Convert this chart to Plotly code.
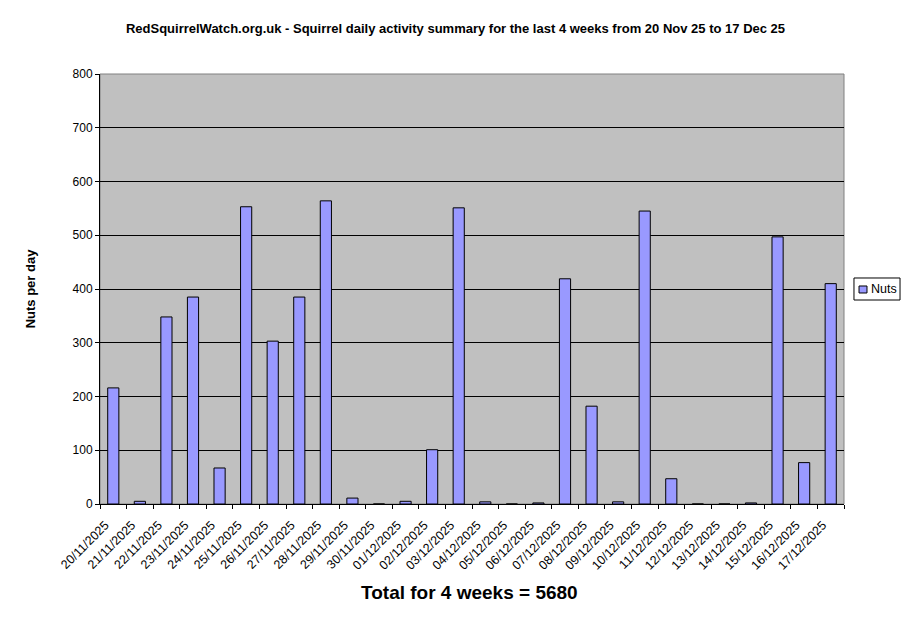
import plotly.graph_objects as go

dates = ['20/11/2025', '21/11/2025', '22/11/2025', '23/11/2025', '24/11/2025', '25/11/2025',
         '26/11/2025', '27/11/2025', '28/11/2025', '29/11/2025', '30/11/2025', '01/12/2025',
         '02/12/2025', '03/12/2025', '04/12/2025', '05/12/2025', '06/12/2025', '07/12/2025',
         '08/12/2025', '09/12/2025', '10/12/2025', '11/12/2025', '12/12/2025', '13/12/2025',
         '14/12/2025', '15/12/2025', '16/12/2025', '17/12/2025']
nuts = [216, 5, 348, 385, 67, 553, 303, 385, 564, 11, 0, 5,
        101, 551, 4, 0, 2, 419, 182, 4, 545, 47, 0, 0,
        2, 497, 77, 410]
total = 5680
bar_color = '#9999FF'

fig = go.Figure(go.Bar(
    x=dates, y=nuts, name='Nuts',
    marker=dict(color=bar_color, line=dict(color='black', width=1)),
))

# page body has an 8px margin, so the figure is a bit smaller than the window
fig.update_layout(
    width=895, height=607,
    margin=dict(l=92, r=59, t=66, b=111, autoexpand=False),
    paper_bgcolor='white', plot_bgcolor='#C0C0C0',
    font=dict(family='Liberation Sans, Arial', size=11, color='black'),
    title=dict(text='<b>RedSquirrelWatch.org.uk - Squirrel daily activity summary for the last 4 weeks from 20 Nov 25 to 17 Dec 25</b>',
               x=0.5, xref='container', y=0.967, yref='container', yanchor='middle', font=dict(size=13)),
    bargap=0.58,
    showlegend=False,
)
fig.update_xaxes(type='category', tickangle=-45, showline=True, linecolor='black', linewidth=1,
                 ticks='outside', tickson='boundaries', ticklen=4, tickcolor='black',
                 ticklabelstandoff=8, ticklabelshift=-8,
                 showgrid=False, mirror=False, tickfont=dict(size=12.5), automargin=False)
fig.update_yaxes(range=[0, 800], dtick=100, showline=True, linecolor='black', linewidth=1,
                 ticks='outside', ticklen=4, tickcolor='black', gridcolor='black', gridwidth=1,
                 zeroline=False, tickfont=dict(size=12), automargin=False,
                 title=dict(text='<b>Nuts per day</b>', font=dict(size=13), standoff=34))
# grey frame on top and right
fig.add_shape(type='rect', xref='paper', yref='paper', x0=0, x1=1, y0=0, y1=1,
              line=dict(color='#808080', width=1), layer='below')

# legend box (drawn by hand so it fits the narrow right margin)
fig.add_shape(type='rect', xref='paper', yref='paper', x0=1.0134, x1=1.0753, y0=0.4744, y1=0.5256,
              line=dict(color='black', width=1), fillcolor='white')
fig.add_shape(type='rect', xref='paper', yref='paper', x0=1.0202, x1=1.0309, y0=0.4907, y1=0.507,
              line=dict(color='black', width=1), fillcolor=bar_color)
fig.add_annotation(text='Nuts', xref='paper', yref='paper', x=1.0335, y=0.5, xanchor='left',
                   showarrow=False, font=dict(size=12.5))

fig.add_annotation(text='<b>Total for 4 weeks = %d</b>' % total, xref='paper', yref='paper',
                   x=0.497, y=-0.205, showarrow=False, font=dict(size=19), yanchor='middle')

fig.write_html('out.html')
